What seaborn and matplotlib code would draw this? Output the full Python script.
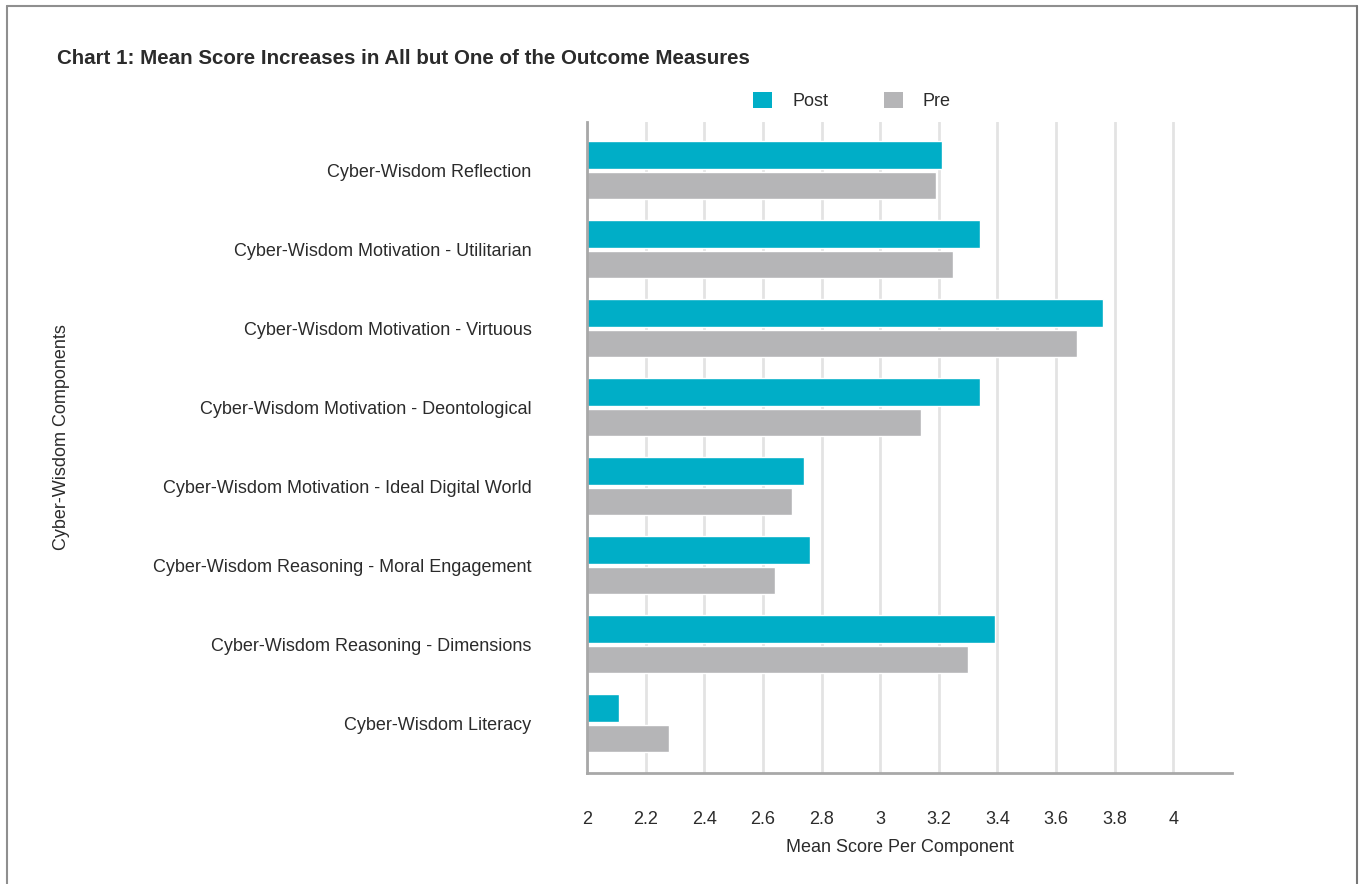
import matplotlib
matplotlib.use("Agg")
import matplotlib.pyplot as plt
import seaborn as sns
import pandas as pd
from matplotlib.patches import Patch
from matplotlib.lines import Line2D

categories = [
    "Cyber-Wisdom Reflection",
    "Cyber-Wisdom Motivation - Utilitarian",
    "Cyber-Wisdom Motivation - Virtuous",
    "Cyber-Wisdom Motivation - Deontological",
    "Cyber-Wisdom Motivation - Ideal Digital World",
    "Cyber-Wisdom Reasoning - Moral Engagement",
    "Cyber-Wisdom Reasoning - Dimensions",
    "Cyber-Wisdom Literacy",
]
post_values = [3.21, 3.34, 3.76, 3.34, 2.74, 2.76, 3.39, 2.11]
pre_values = [3.19, 3.25, 3.67, 3.14, 2.70, 2.64, 3.30, 2.28]
series_names = ["Post", "Pre"]
x_ticks = [2, 2.2, 2.4, 2.6, 2.8, 3, 3.2, 3.4, 3.6, 3.8, 4]
x_tick_labels = ["2", "2.2", "2.4", "2.6", "2.8", "3", "3.2", "3.4", "3.6", "3.8", "4"]

colors = {"Post": "#00AEC7", "Pre": "#B5B5B7"}
text_color = "#2b2b2b"

df = pd.DataFrame({
    "Component": categories * 2,
    "Score": post_values + pre_values,
    "Period": ["Post"] * len(categories) + ["Pre"] * len(categories),
})

sns.set_theme(style="white")
plt.rcParams["font.family"] = ["Liberation Sans", "DejaVu Sans"]

W, H = 1359, 884
fs = 13
fig = plt.figure(figsize=(W / 100, H / 100), dpi=100)
ax = fig.add_axes([587 / W, 1 - 773 / H, (1232 - 587) / W, (773 - 122) / H])

sns.barplot(data=df, x="Score", y="Component", hue="Period", hue_order=series_names,
            order=categories, palette=colors, orient="h", width=0.78, gap=0.1,
            ax=ax, legend=False, saturation=1)

ax.set_xlim(2, 4.2)
ax.set_ylim(len(categories) - 1 + 0.63, -0.61)
ax.set_xticks(x_ticks)
ax.set_xticklabels(x_tick_labels, fontsize=fs, color=text_color)
ax.tick_params(axis="x", length=0, pad=27)
ax.tick_params(axis="y", length=0, pad=40, labelsize=fs, labelcolor=text_color)
ax.set_xlabel("")
ax.set_ylabel("")
ax.xaxis.grid(True, color="#e3e3e3", linewidth=2)
ax.set_axisbelow(True)
for s in ["top", "right"]:
    ax.spines[s].set_visible(False)
for s in ["left", "bottom"]:
    ax.spines[s].set_color("#a8a8a8")
    ax.spines[s].set_linewidth(2)

fig.text(57 / W, 1 - 58 / H, "Chart 1: Mean Score Increases in All but One of the Outcome Measures",
         fontsize=14.8, fontweight="bold", color=text_color, ha="left", va="center")
fig.text(62 / W, 1 - 437 / H, "Cyber-Wisdom Components", rotation=90, fontsize=fs,
         color=text_color, ha="center", va="center")
fig.text(900 / W, 1 - 848 / H, "Mean Score Per Component", fontsize=fs,
         color=text_color, ha="center", va="center")

handles = [Patch(facecolor=colors[n], edgecolor="none") for n in series_names]
fig.legend(handles, series_names, loc="center", bbox_to_anchor=(852 / W, 1 - 101 / H),
           ncol=2, frameon=False, fontsize=fs, handlelength=1.05, handleheight=1.05,
           handletextpad=1.1, columnspacing=3.1, labelcolor=text_color)

# page frame
frame_c = "#8f8f8f"
fig.add_artist(Line2D([7 / W, 7 / W], [0, 1 - 6 / H], transform=fig.transFigure, color=frame_c, lw=1.5))
fig.add_artist(Line2D([7 / W, 1357 / W], [1 - 6 / H, 1 - 6 / H], transform=fig.transFigure, color=frame_c, lw=1.5))
fig.add_artist(Line2D([1357 / W, 1357 / W], [0, 1 - 6 / H], transform=fig.transFigure, color="#777777", lw=1.5))

fig.savefig("out.png", dpi=100)
